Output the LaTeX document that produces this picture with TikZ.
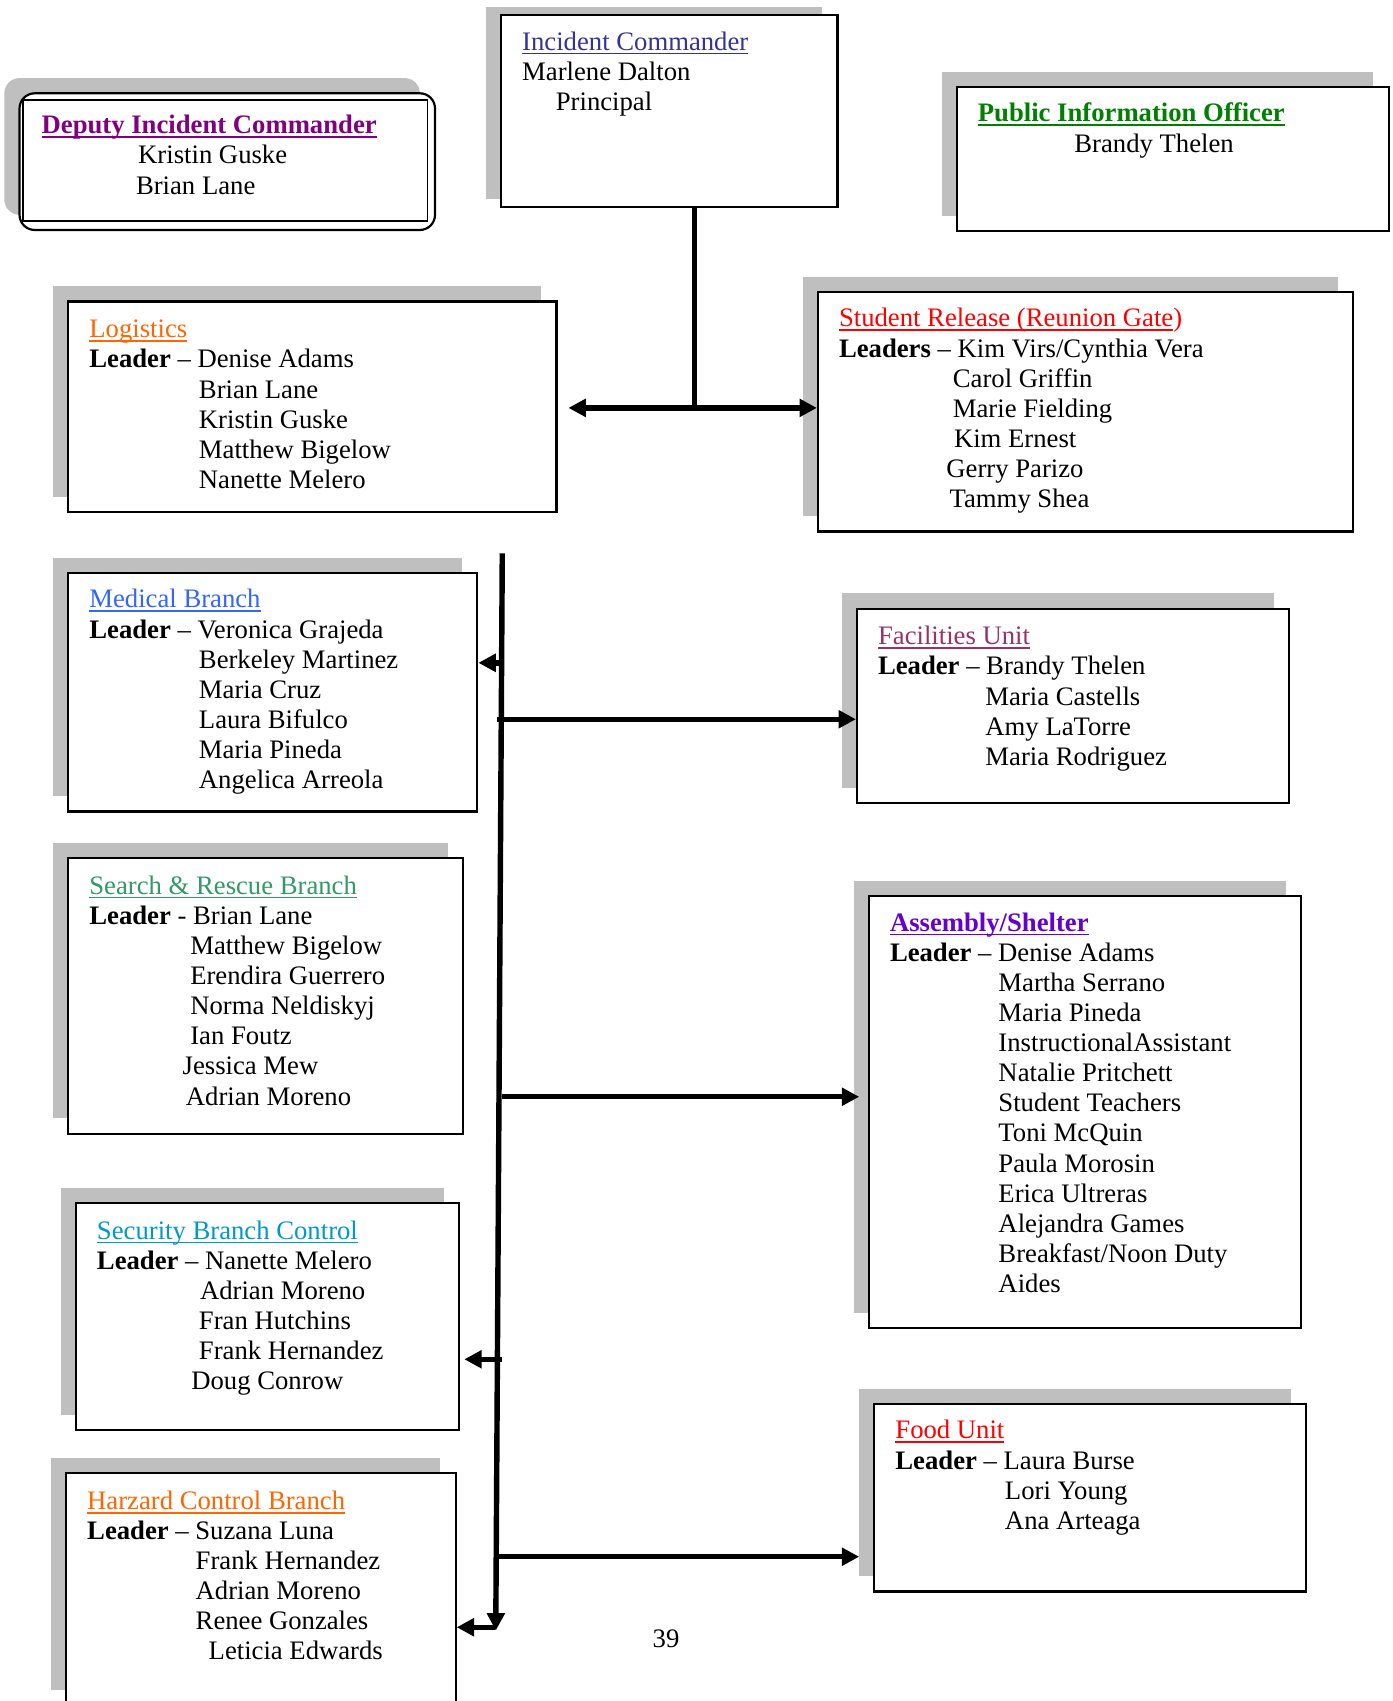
\documentclass[tikz,border=0pt]{standalone}
\usepackage{fontspec}
\setmainfont{Liberation Serif}
\usetikzlibrary{arrows.meta}
\usetikzlibrary{fit}
\usetikzlibrary{shadows}
\usepackage{xcolor}

\definecolor{dicpurple}{HTML}{800080}
\definecolor{icblue}{HTML}{333399}
\definecolor{piogreen}{HTML}{008000}
\definecolor{lgorange}{HTML}{FF6600}
\definecolor{srred}{HTML}{FF0000}
\definecolor{mdblue}{HTML}{3366FF}
\definecolor{rsgreen}{HTML}{339966}
\definecolor{scblue}{HTML}{0099CC}
\definecolor{fcplum}{HTML}{993366}
\definecolor{asviolet}{HTML}{6600CC}

% underline that runs through the descenders
\newcommand{\ttl}[1]{\setbox0\hbox{#1}\rlap{\rule[-1.9pt]{\wd0}{0.8pt}}\box0}

\tikzset{
  plainbox/.style={draw, line width=1pt, inner sep=0pt, fill=white},
  unitbox/.style={plainbox, drop shadow={shadow xshift=-7pt, shadow yshift=7pt, fill=black!25, opacity=1}},
  txt/.style={anchor=north west, inner sep=0pt, align=left, font=\fontsize{12.3}{13.875}\selectfont},
  link/.style={line width=2.5pt},
  arrowto/.style={-{Triangle[length=8pt,width=8pt]}}
}

\begin{document}
\begin{tikzpicture}[x=0.5pt,y=-0.5pt]
    \useasboundingbox (0,0) rectangle (1284,1568);

    % boxes
    \node[plainbox, drop shadow={shadow xshift=-7pt, shadow yshift=4pt, fill=black!25, opacity=1}, fit={(462,14) (772,191)}] (ic) {};
    \node[plainbox, rounded corners=7pt, drop shadow={shadow xshift=-7pt, shadow yshift=7pt, fill=black!25, opacity=1}, fit={(18,86) (401,212)}] (dic) {};
    \node[draw, line width=0.8pt, inner sep=0pt, fit={(21,92) (394,204)}] (dicin) {};
    \node[unitbox, fit={(882,80) (1280,213)}] (pio) {};
    \node[unitbox, fit={(63,278) (513,472)}] (lg) {};
    \node[unitbox, fit={(754,269) (1247,490)}] (sr) {};
    \node[unitbox, fit={(63,528) (440,748)}] (md) {};
    \node[unitbox, fit={(790,561) (1188,740)}] (fc) {};
    \node[unitbox, fit={(63,791) (427,1045)}] (rs) {};
    \node[unitbox, fit={(801,826) (1199,1224)}] (as) {};
    \node[unitbox, fit={(70,1109) (423,1318)}] (sc) {};
    \node[unitbox, fit={(806,1294) (1204,1467)}] (fd) {};
    \node[unitbox, fit={(61,1358) (420,1572)}] (hz) {};

    % texts
    \node[txt] (ictxt) at (481,26.6) {\strut{\color{icblue}\ttl{Incident Commander}}\\
      Marlene Dalton\\ \hspace*{15.5pt}Principal};
    \node[txt] (dictxt) at (38,103.6) {\strut{\color{dicpurple}\bfseries\ttl{Deputy Incident Commander}}\\
      \hspace*{44.5pt}Kristin Guske\\ \hspace*{43.5pt}Brian Lane};
    \node[txt] (piotxt) at (901,92.6) {\strut{\color{piogreen}\bfseries\ttl{Public Information Officer}}\\[0.3pt]
      \hspace*{44.5pt}Brandy Thelen};
    \node[txt] (lgtxt) at (82,291.6) {\strut{\color{lgorange}\ttl{Logistics}}\\
      \textbf{Leader} -- Denise Adams\\
      \hspace*{50.5pt}Brian Lane\\ \hspace*{50.5pt}Kristin Guske\\
      \hspace*{50.5pt}Matthew Bigelow\\ \hspace*{50.5pt}Nanette Melero};
    \node[txt] (srtxt) at (773,281.6) {\strut{\color{srred}\ttl{Student Release (Reunion Gate})}\\
      \textbf{Leaders} -- Kim Virs/Cynthia Vera\\
      \hspace*{52.5pt}Carol Griffin\\ \hspace*{52.5pt}Marie Fielding\\
      \hspace*{53pt}Kim Ernest\\ \hspace*{49.5pt}Gerry Parizo\\ \hspace*{51pt}Tammy Shea};
    \node[txt] (mdtxt) at (82,540.6) {\strut{\color{mdblue}\ttl{Medical Branch}}\\
      \textbf{Leader} -- Veronica Grajeda\\
      \hspace*{50.5pt}Berkeley Martinez\\ \hspace*{50.5pt}Maria Cruz\\
      \hspace*{50.5pt}Laura Bifulco\\ \hspace*{50.5pt}Maria Pineda\\
      \hspace*{50.5pt}Angelica Arreola};
    \node[txt] (fctxt) at (809,574.6) {\strut{\color{fcplum}\ttl{Facilities Unit}}\\
      \textbf{Leader} -- Brandy Thelen\\
      \hspace*{49.5pt}Maria Castells\\ \hspace*{49.5pt}Amy LaTorre\\
      \hspace*{49.5pt}Maria Rodriguez};
    \node[txt] (rstxt) at (82,804.6) {\strut{\color{rsgreen}\ttl{Search \& Rescue Branch}}\\
      \textbf{Leader} - Brian Lane\\
      \hspace*{46.5pt}Matthew Bigelow\\ \hspace*{46.5pt}Erendira Guerrero\\
      \hspace*{46.5pt}Norma Neldiskyj\\ \hspace*{46.5pt}Ian Foutz\\
      \hspace*{43pt}Jessica Mew\\ \hspace*{44.5pt}Adrian Moreno};
    \node[txt] (astxt) at (820,838.6) {\strut{\color{asviolet}\bfseries\ttl{Assembly/Shelter}}\\
      \textbf{Leader} -- Denise Adams\\
      \hspace*{50pt}Martha Serrano\\ \hspace*{50pt}Maria Pineda\\
      \hspace*{50pt}InstructionalAssistant\\ \hspace*{50pt}Natalie Pritchett\\
      \hspace*{50pt}Student Teachers\\ \hspace*{50pt}Toni McQuin\\
      \hspace*{50pt}Paula Morosin\\ \hspace*{50pt}Erica Ultreras\\
      \hspace*{50pt}Alejandra Games\\ \hspace*{50pt}Breakfast/Noon Duty\\
      \hspace*{50pt}Aides};
    \node[txt] (sctxt) at (89,1122.6) {\strut{\color{scblue}\ttl{Security Branch Control}}\\
      \textbf{Leader} -- Nanette Melero\\
      \hspace*{47.5pt}Adrian Moreno\\ \hspace*{47pt}Fran Hutchins\\
      \hspace*{47pt}Frank Hernandez\\ \hspace*{43.5pt}Doug Conrow};
    \node[txt] (fdtxt) at (825,1306.6) {\strut{\color{srred}\ttl{Food Unit}}\\
      \textbf{Leader} -- Laura Burse\\
      \hspace*{50.5pt}Lori Young\\ \hspace*{50.5pt}Ana Arteaga};
    \node[txt] (hztxt) at (80,1371.6) {\strut{\color{lgorange}\ttl{Harzard Control Branch}}\\
      \textbf{Leader} -- Suzana Luna\\
      \hspace*{50pt}Frank Hernandez\\ \hspace*{50pt}Adrian Moreno\\
      \hspace*{50pt}Renee Gonzales\\ \hspace*{56pt}Leticia Edwards};

    \node[font=\fontsize{12.3}{13.875}\selectfont] (pgno) at (614,1511) {39};

    % connectors
    \coordinate (hub) at (640,376);
    \draw[link] (ic.south -| hub) -- (hub);
    \draw[link,arrowto,shorten >=5pt] (hub) -- (hub -| lg.east);
    \draw[link,arrowto] (hub) -- (hub -| sr.west);

    \coordinate (spinetop) at (463,510);
    \coordinate (spinebot) at (457,1503);
    \draw[link,arrowto] (spinetop) -- (spinebot);

    \coordinate (mdj) at (463,611);
    \coordinate (fcj) at (458,663);
    \coordinate (asj) at (463,1011);
    \coordinate (scj) at (463,1253);
    \coordinate (fdj) at (455,1435);
    \coordinate (hzj) at (456,1500);
    \draw[link,arrowto] (mdj) -- (mdj -| md.east);
    \draw[link,arrowto] (fcj) -- (fcj -| fc.west);
    \draw[link,arrowto,shorten >=4pt] (asj) -- (asj -| as.west);
    \draw[link,arrowto,shorten >=2pt] (scj) -- (scj -| sc.east);
    \draw[link,arrowto,shorten >=6.5pt] (fdj) -- (fdj -| fd.west);
    \draw[link,arrowto] (hzj) -- (hzj -| hz.east);
\end{tikzpicture}
\end{document}
